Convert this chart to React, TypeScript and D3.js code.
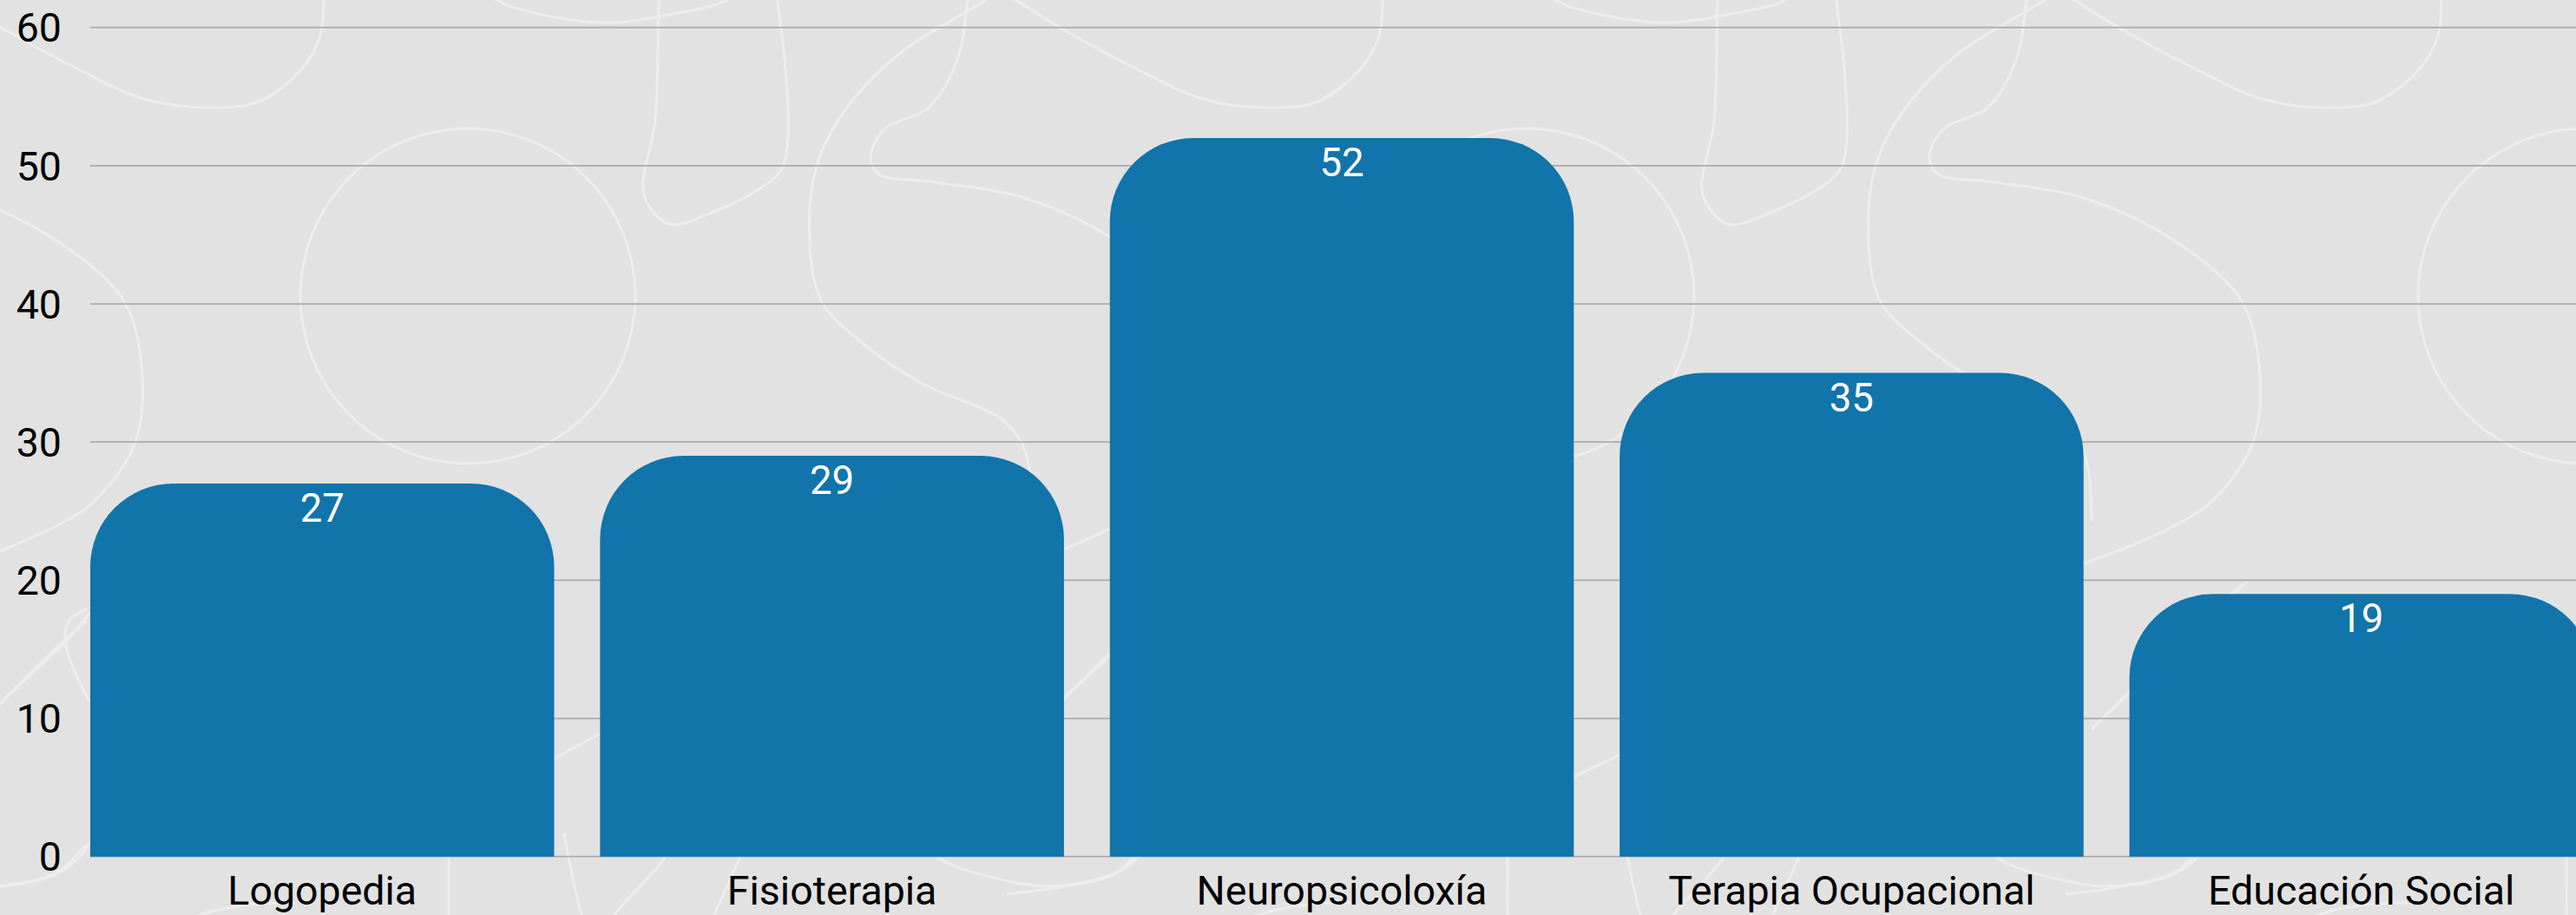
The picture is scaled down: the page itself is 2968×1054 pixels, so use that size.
import React from "react";
import * as d3 from "d3";

const categories = ["Logopedia", "Fisioterapia", "Neuropsicoloxía", "Terapia Ocupacional", "Educación Social"];
const values = [27, 29, 52, 35, 19];
const yTicks = [0, 10, 20, 30, 40, 50, 60];

// decorative background pattern (one repeating tile, pixel coordinates)
const patternPeriod = 1220;
const patternPaths: [number, number][][] = [
  [[-80, -20], [0, 31], [83, 76], [166, 114], [240, 124], [298, 117], [348, 79], [369, 41], [373, 0], [373, -20]],
  [[555, -20], [572, 0], [640, 20], [705, 26], [780, 15], [837, 0], [855, -20]],
  [[760, -20], [759, 0], [755, 138], [742, 224], [771, 258], [829, 241], [871, 220], [900, 196], [908, 155], [904, 69], [896, 0], [896, -20]],
  [[1180, -30], [1136, 0], [1036, 62], [978, 121], [945, 179], [933, 241], [945, 344], [995, 396], [1061, 441], [1153, 482], [1177, 510], [1186, 540], [1190, 600]],
  [[1118, -30], [1115, 0], [1103, 69], [1070, 124], [1020, 148], [1003, 179], [1012, 200], [1078, 210], [1177, 227], [1277, 272], [1361, 344], [1383, 421], [1376, 509], [1332, 574], [1296, 600], [1227, 632], [1182, 649], [1100, 690]],
  [[150, 670], [110, 700], [77, 738], [40, 773], [0, 810], [-30, 840]],
  [[140, 680], [103, 700], [80, 714], [75, 736], [80, 758], [100, 802], [130, 850]],
  [[140, 950], [103, 971], [67, 1004], [0, 1022], [-60, 1030]],
  [[200, 1070], [230, 1054], [287, 1042], [340, 1040]],
  [[518, 960], [517, 1000], [517, 1070]],
  [[650, 960], [655, 988], [670, 1054], [675, 1070]],
  [[780, 960], [766, 988], [708, 1054], [700, 1070]],
  [[860, 960], [852, 988], [823, 1054], [818, 1070]],
  [[1060, 960], [1081, 988], [1177, 1018], [1225, 1020], [1282, 1008], [1311, 988], [1330, 960]],
  [[540, 930], [594, 895], [643, 871], [700, 840]],
  [[1190, 840], [1225, 806], [1279, 752], [1320, 715]],
];
const patternCircles: [number, number, number][] = [[539, 341, 193]];
const tileOffsets = [-1, 0, 1, 2].map((k) => k * patternPeriod);

const W = 2968;
const H = 1054;

export default function App() {
  const x = d3.scaleBand<string>().domain(categories).range([104, 2988]).paddingInner(0.09).paddingOuter(0);
  const y = d3.scaleLinear().domain([0, 60]).range([986.7, 31.7]);
  const line = d3.line<[number, number]>().curve(d3.curveCatmullRom.alpha(0.5));
  const r = 96;
  const bw = x.bandwidth();

  const barPath = (c: string, v: number) => {
    const x0 = x(c)!;
    const x1 = x0 + bw;
    const yt = y(v);
    const yb = y(0);
    return `M${x0},${yb}L${x0},${yt + r}A${r},${r} 0 0 1 ${x0 + r},${yt}L${x1 - r},${yt}A${r},${r} 0 0 1 ${x1},${yt + r}L${x1},${yb}Z`;
  };

  return (
    <svg
      width={W}
      height={H}
      style={{ position: "absolute", left: 0, top: 0, display: "block" }}
      fontFamily="Roboto, 'Noto Sans', sans-serif"
    >
      <rect x={0} y={0} width={W} height={H} fill="#e2e2e2" />
      <g fill="none" stroke="#ededed" strokeWidth={3}>
        {tileOffsets.map((off) => (
          <g key={off} transform={`translate(${off},0)`}>
            {patternPaths.map((p, i) => (
              <path key={i} d={line(p) || ""} />
            ))}
            {patternCircles.map(([cx, cy, cr], i) => (
              <circle key={"c" + i} cx={cx} cy={cy} r={cr} />
            ))}
          </g>
        ))}
      </g>
      <g>
        {yTicks.map((t) => (
          <g key={t}>
            <line x1={104} x2={W} y1={y(t)} y2={y(t)} stroke="#ababab" strokeWidth={1.8} />
            <text x={71} y={y(t)} dy="0.36em" textAnchor="end" fontSize={46.5} fill="#000">
              {t}
            </text>
          </g>
        ))}
      </g>
      <g>
        {categories.map((c, i) => (
          <path key={c} d={barPath(c, values[i])} fill="#1174ab" />
        ))}
      </g>
      <g>
        {categories.map((c, i) => (
          <text
            key={c}
            x={x(c)! + bw / 2}
            y={y(values[i]) + 44}
            textAnchor="middle"
            fontSize={45.5}
            fill="#ffffff"
          >
            {values[i]}
          </text>
        ))}
      </g>
      <g>
        {categories.map((c) => (
          <text key={c} x={x(c)! + bw / 2} y={1042} textAnchor="middle" fontSize={46.5} fill="#000">
            {c}
          </text>
        ))}
      </g>
    </svg>
  );
}
